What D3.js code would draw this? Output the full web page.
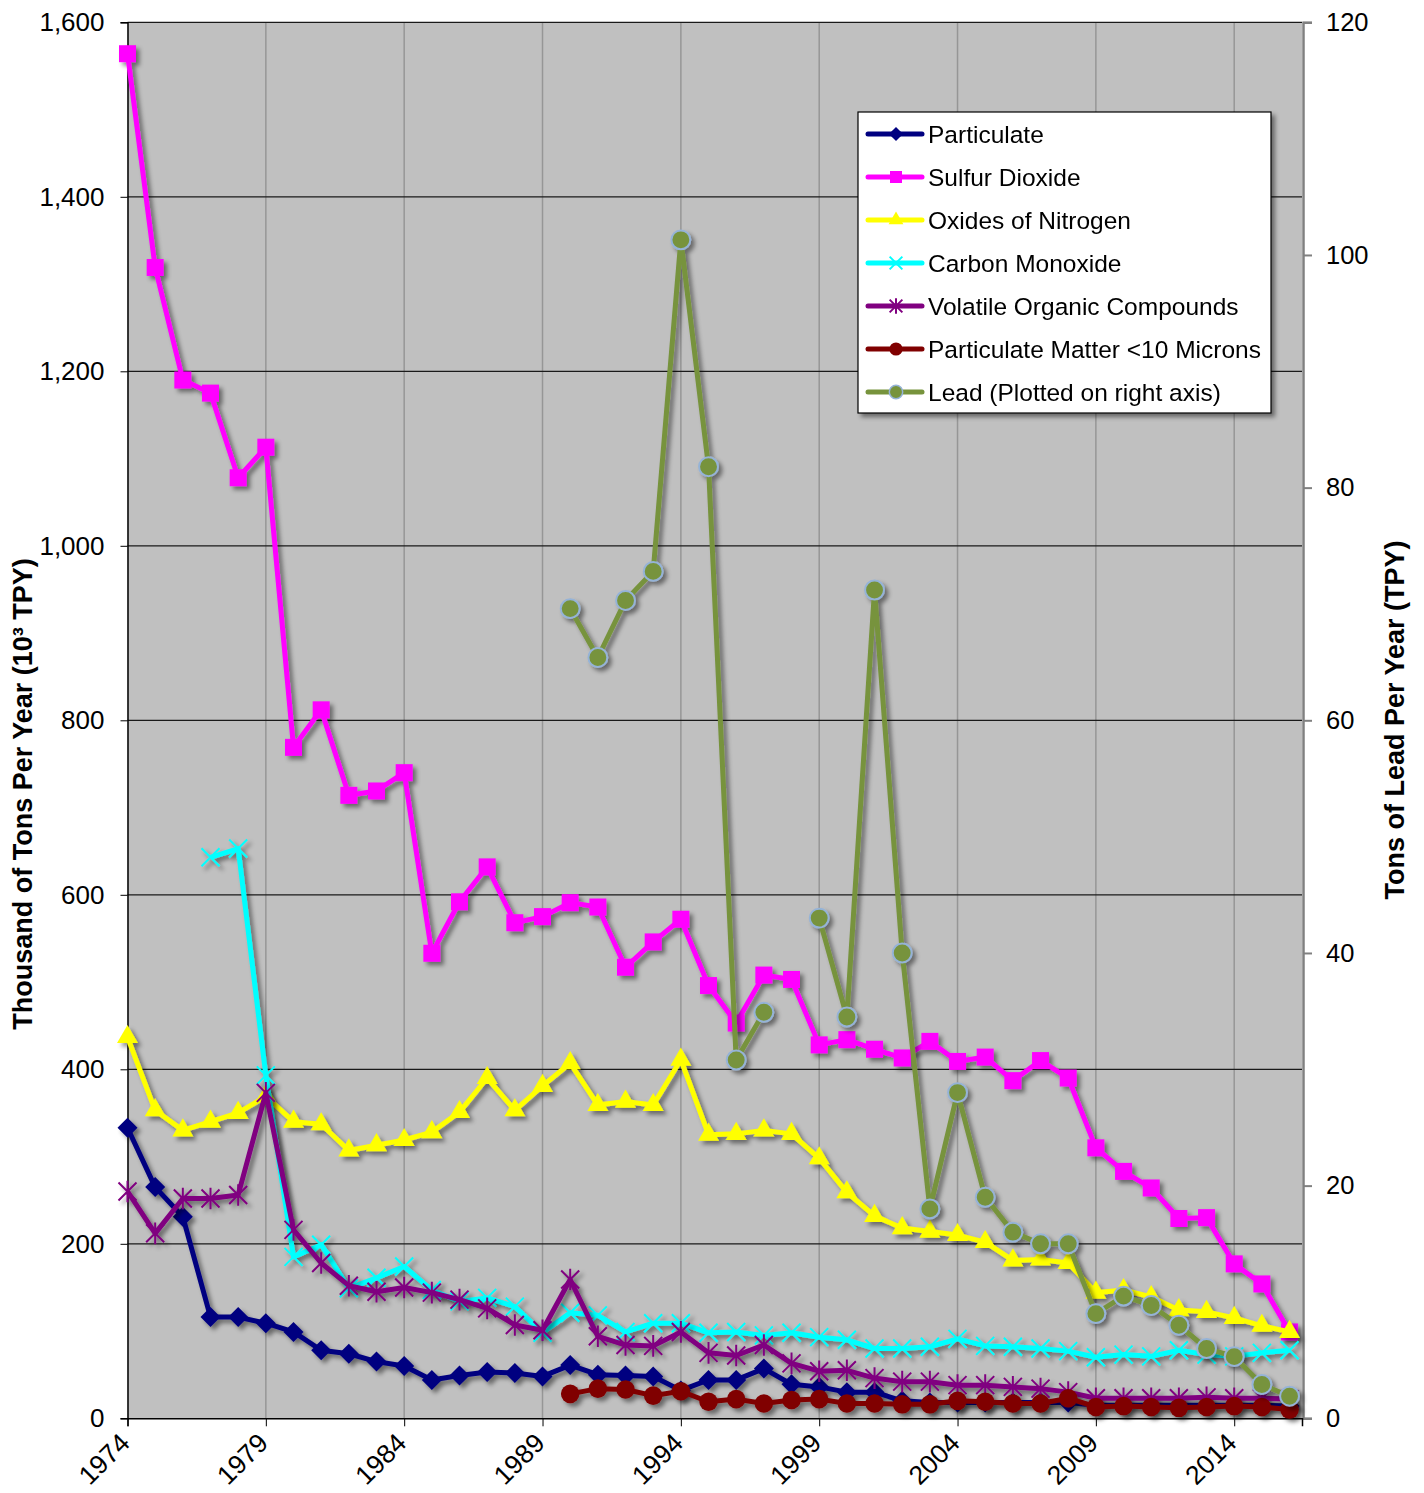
<!DOCTYPE html>
<html>
<head>
<meta charset="utf-8">
<script src="https://cdn.jsdelivr.net/npm/d3@7"></script>
<style>
  body { margin: 0; background: #fff; }
  svg { font-family: "Liberation Sans", Arial, sans-serif; }
</style>
</head>
<body>
<svg id="chart" width="1424" height="1493"></svg>
<script>
// years on the x axis
const years = d3.range(1974, 2017);

// thousand tons per year (left axis); null = no data
const particulate = [333, 265, 231, 116, 116, 109, 99, 78, 74, 65, 60, 44, 49, 53, 52, 48, 61, 50, 49, 48, 32, 44, 44, 57, 39, 36, 30, 30, 20, 18, 18, 18, 18, 18, 18, 15, 15, 15, 15, 15, 15, 15, 14];
const sulfurDioxide = [1564, 1319, 1190, 1175, 1078, 1113, 769, 812, 714, 719, 740, 533, 592, 632, 568, 575, 591, 586, 517, 546, 572, 496, 453, 508, 503, 428, 434, 423, 413, 432, 409, 414, 387, 410, 390, 310, 283, 264, 229, 230, 177, 154, 99];
const oxidesNitrogen = [437, 353, 330, 340, 350, 369, 340, 337, 307, 313, 319, 328, 351, 390, 353, 381, 407, 359, 363, 359, 411, 325, 326, 330, 326, 298, 259, 232, 218, 214, 210, 202, 181, 182, 178, 144, 147, 139, 124, 122, 115, 106, 99];
const carbonMonoxide = [null, null, null, 643, 653, 393, 185, 199, 149, 161, 174, 147, 134, 138, 128, 98, 121, 118, 99, 109, 109, 98, 99, 95, 98, 93, 90, 80, 80, 82, 91, 83, 82, 80, 77, 70, 73, 71, 78, 73, 71, 75, 78];
const voc = [260, 212, 252, 252, 256, 373, 216, 178, 152, 145, 150, 144, 136, 126, 107, 101, 159, 94, 84, 83, 99, 75, 72, 84, 63, 54, 55, 46, 42, 42, 38, 38, 36, 34, 30, 23, 23, 23, 23, 24, 23, 23, 22];
const pm10 = [null, null, null, null, null, null, null, null, null, null, null, null, null, null, null, null, 28, 34, 33, 26, 31, 19, 22, 17, 21, 22, 17, 17, 16, 16, 20, 19, 17, 17, 23, 13, 14, 13, 12, 13, 14, 13, 10];
// tons of lead per year (right axis)
const lead = [null, null, null, null, null, null, null, null, null, null, null, null, null, null, null, null, 69.6, 65.4, 70.3, 72.8, 101.3, 81.8, 30.8, 34.9, null, 43.0, 34.5, 71.2, 40.0, 18.0, 28.0, 19.0, 16.0, 15.0, 15.0, 9.0, 10.5, 9.7, 8.0, 6.0, 5.3, 2.9, 1.9];

const xTicks = [1974, 1979, 1984, 1989, 1994, 1999, 2004, 2009, 2014];
const leftTicks = d3.range(0, 1601, 200);
const rightTicks = d3.range(0, 121, 20);

const svg = d3.select("#chart");
const plotL = 127.5, plotR = 1302, plotT = 22.3, plotB = 1418.3;

const x = d3.scaleLinear().domain([1974, 2016.45]).range([plotL, plotR]);
const yL = d3.scaleLinear().domain([0, 1600]).range([plotB, plotT]);
const yR = d3.scaleLinear().domain([0, 120]).range([plotB, plotT]);

// drop shadow
const defs = svg.append("defs");
const f = defs.append("filter").attr("id", "shadow").attr("x", "-10%").attr("y", "-10%").attr("width", "130%").attr("height", "130%");
f.append("feDropShadow").attr("dx", 3.5).attr("dy", 3.5).attr("stdDeviation", 2.2)
  .attr("flood-color", "#000").attr("flood-opacity", 0.45);

// plot area
svg.append("rect").attr("x", plotL).attr("y", plotT).attr("width", plotR - plotL).attr("height", plotB - plotT).attr("fill", "#c0c0c0");

// gridlines
svg.append("g").selectAll("line").data(xTicks.slice(1)).join("line")
  .attr("x1", d => x(d)).attr("x2", d => x(d)).attr("y1", plotT).attr("y2", plotB)
  .attr("stroke", "#969696").attr("stroke-width", 1.5);
svg.append("g").selectAll("line").data(leftTicks.slice(1)).join("line")
  .attr("x1", plotL).attr("x2", plotR).attr("y1", d => yL(d)).attr("y2", d => yL(d))
  .attr("stroke", "#1a1a1a").attr("stroke-width", 1.2);

// axes
const axL = svg.append("g").attr("transform", `translate(${plotL},0)`)
  .call(d3.axisLeft(yL).tickValues(leftTicks).tickFormat(d3.format(",")).tickSize(7).tickPadding(16));
axL.select(".domain").attr("stroke", "#000").attr("stroke-width", 1.5);
axL.selectAll("text").attr("font-size", 26).attr("fill", "#000").attr("font-family", "Liberation Sans, Arial");

const axR = svg.append("g").attr("transform", `translate(${plotR + 1},0)`)
  .call(d3.axisRight(yR).tickValues(rightTicks).tickSize(9).tickPadding(14));
axR.select(".domain").attr("stroke", "#808080").attr("stroke-width", 2.5);
axR.selectAll(".tick line").attr("stroke", "#808080").attr("stroke-width", 2);
axR.selectAll("text").attr("font-size", 25.5).attr("fill", "#000").attr("font-family", "Liberation Sans, Arial");

const axB = svg.append("g").attr("transform", `translate(0,${plotB})`)
  .call(d3.axisBottom(x).tickValues(xTicks).tickFormat(d3.format("d")).tickSize(8));
axB.select(".domain").attr("stroke", "#000").attr("stroke-width", 1.5);
axB.selectAll("text").attr("font-size", 26.5).attr("fill", "#000").attr("font-family", "Liberation Sans, Arial")
  .attr("text-anchor", "end").attr("dy", "0.35em")
  .attr("transform", "translate(-11,12) rotate(-45)");

// axis titles
svg.append("text").attr("transform", `translate(32,${(560 + 1028) / 2}) rotate(-90)`)
  .attr("text-anchor", "middle").attr("font-size", 27).attr("font-weight", "bold")
  .text("Thousand of Tons Per Year (10³ TPY)");
svg.append("text").attr("transform", `translate(1404,${(540 + 900) / 2}) rotate(-90)`)
  .attr("text-anchor", "middle").attr("font-size", 27).attr("font-weight", "bold")
  .text("Tons of Lead Per Year (TPY)");

// marker shapes
const asterisk = {
  draw(ctx, size) {
    const r = Math.sqrt(size) / 2;
    ctx.moveTo(-r, -r); ctx.lineTo(r, r);
    ctx.moveTo(-r, r); ctx.lineTo(r, -r);
    ctx.moveTo(0, -r * 1.2); ctx.lineTo(0, r * 1.2);
  }
};
const xMark = {
  draw(ctx, size) {
    const r = Math.sqrt(size) / 2;
    ctx.moveTo(-r, -r); ctx.lineTo(r, r);
    ctx.moveTo(-r, r); ctx.lineTo(r, -r);
  }
};
const diamond = {
  draw(ctx, size) {
    const r = Math.sqrt(size) / 2;
    ctx.moveTo(0, -r); ctx.lineTo(r, 0); ctx.lineTo(0, r); ctx.lineTo(-r, 0); ctx.closePath();
  }
};

const series = [
  { name: "Particulate", values: particulate, color: "#000080", type: diamond, size: 20 * 20, axis: yL, fill: true },
  { name: "Sulfur Dioxide", values: sulfurDioxide, color: "#ff00ff", type: d3.symbolSquare, size: 17 * 17, axis: yL, fill: true },
  { name: "Oxides of Nitrogen", values: oxidesNitrogen, color: "#ffff00", type: d3.symbolTriangle, size: 190, axis: yL, fill: true },
  { name: "Carbon Monoxide", values: carbonMonoxide, color: "#00ffff", type: xMark, size: 18 * 18, axis: yL, fill: false },
  { name: "Volatile Organic Compounds", values: voc, color: "#800080", type: asterisk, size: 18 * 18, axis: yL, fill: false },
  { name: "Particulate Matter <10 Microns", values: pm10, color: "#800000", type: d3.symbolCircle, size: 270, axis: yL, fill: true },
  { name: "Lead (Plotted on right axis)", values: lead, color: "#77933c", type: d3.symbolCircle, size: 280, axis: yR, fill: true, stroke: "#95b3d7" }
];

series.forEach(s => {
  const pts = years.map((yr, i) => ({ yr, v: s.values[i] }));
  const g = svg.append("g").attr("filter", "url(#shadow)");
  const line = d3.line().defined(d => d.v != null).x(d => x(d.yr)).y(d => s.axis(d.v));
  g.append("path").datum(pts).attr("d", line).attr("fill", "none")
    .attr("stroke", s.color).attr("stroke-width", 5).attr("stroke-linejoin", "round");
  g.selectAll("path.m").data(pts.filter(d => d.v != null)).join("path").attr("class", "m")
    .attr("transform", d => `translate(${x(d.yr)},${s.axis(d.v)})`)
    .attr("d", d3.symbol(s.type, s.size))
    .attr("fill", s.fill ? s.color : "none")
    .attr("stroke", s.stroke || s.color)
    .attr("stroke-width", s.stroke ? 2 : (s.fill ? 0 : 2));
});

// legend
const lg = svg.append("g").attr("transform", "translate(858,112)");
lg.append("rect").attr("width", 413).attr("height", 301).attr("fill", "#fff")
  .attr("stroke", "#000").attr("stroke-width", 1.2).attr("filter", "url(#shadow)");
series.forEach((s, i) => {
  const row = lg.append("g").attr("transform", `translate(0,${22 + i * 43})`);
  row.append("line").attr("x1", 10).attr("x2", 64).attr("stroke", s.color).attr("stroke-width", 5).attr("stroke-linecap", "round");
  row.append("path").attr("transform", "translate(38,0)")
    .attr("d", d3.symbol(s.type, s.size * 0.5))
    .attr("fill", s.fill ? s.color : "none")
    .attr("stroke", s.stroke || s.color)
    .attr("stroke-width", s.stroke ? 1.5 : (s.fill ? 0 : 2));
  row.append("text").attr("x", 70).attr("dy", "0.36em").attr("font-size", 24.5).text(s.name);
});
</script>
</body>
</html>
